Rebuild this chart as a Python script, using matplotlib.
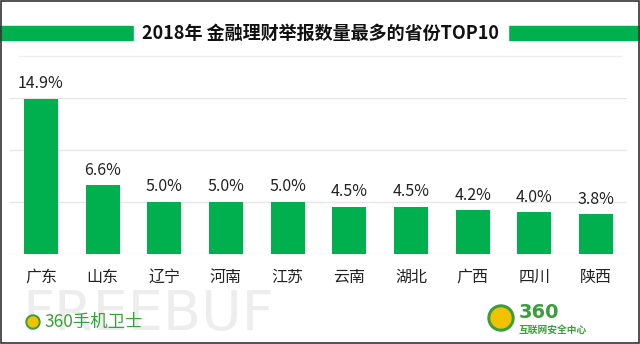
import matplotlib.pyplot as plt
from matplotlib.patches import Rectangle, Ellipse

plt.rcParams['font.family'] = ['Noto Sans CJK SC', 'DejaVu Sans']

# Data
provinces = ['广东', '山东', '辽宁', '河南', '江苏', '云南', '湖北', '广西', '四川', '陕西']
shares = [14.9, 6.6, 5.0, 5.0, 5.0, 4.5, 4.5, 4.2, 4.0, 3.8]
value_labels = ['14.9%', '6.6%', '5.0%', '5.0%', '5.0%', '4.5%', '4.5%', '4.2%', '4.0%', '3.8%']
grid_levels = [0, 5, 10, 15]
title = '2018年 金融理财举报数量最多的省份TOP10'

green = '#00b04f'
logo_green = '#3a9e3a'
W, H = 640, 344


def px(xp, yp):
    # pixel (from top-left) -> figure fraction
    return xp / W, 1 - yp / H


def circle(xp, yp, r, color, z=3):
    cx, cy = px(xp, yp)
    fig.patches.append(Ellipse((cx, cy), 2 * r / W, 2 * r / H, transform=fig.transFigure,
                               color=color, zorder=z))


fig = plt.figure(figsize=(6.4, 3.44), dpi=100)
fig.patch.set_facecolor('white')

# Watermark behind everything
fig.text(22 / W, 1 - 342 / H, 'FREEBUF', fontsize=40, color='#ededed',
         ha='left', va='bottom', family='DejaVu Sans', zorder=0)

ax = fig.add_axes([10 / W, 1 - 254 / H, 617 / W, 156 / H])
x = range(len(provinces))
ax.bar(x, shares, width=0.55, color=green, zorder=2)
for level in grid_levels:
    ax.axhline(level, color='#e6e6e6', lw=1, zorder=1)

for i in range(len(provinces)):
    ax.text(i, shares[i] + 0.65, value_labels[i], ha='center', va='bottom',
            fontsize=11.5, color='#222222', clip_on=False)
    ax.text(i, -1.4, provinces[i], ha='center', va='top',
            fontsize=11.5, color='#222222', clip_on=False)

ax.set_xlim(-0.5, len(provinces) - 0.5)
ax.set_ylim(0, 15)
ax.axis('off')

# Title band
fig.patches.append(Rectangle(px(0, 40), 1, 14 / H, transform=fig.transFigure,
                             color=green, zorder=0))
fig.patches.append(Rectangle(px(134, 46), 374 / W, 26 / H,
                             transform=fig.transFigure, color='white', zorder=1))
fig.text(0.5, 1 - 33 / H, title, ha='center', va='center', fontsize=13,
         fontweight='bold', color='#111111')
fig.lines.append(plt.Line2D([0.03, 0.97], [1 - 56 / H] * 2, transform=fig.transFigure,
                            color='#eeeeee', lw=1))

# Logos (as text)
circle(33, 322, 7, '#3a9e3a')
circle(33, 322, 5, '#f2c200', z=4)
fig.text(44 / W, 1 - 322 / H, '360手机卫士', fontsize=12.5, color=logo_green,
         ha='left', va='center')
circle(501, 318, 13, '#3a9e3a')
circle(501, 318, 10, '#f2c200', z=4)
fig.text(519 / W, 1 - 313 / H, '360', fontsize=14, color=logo_green,
         ha='left', va='center', fontweight='bold', family='DejaVu Sans')
fig.text(519 / W, 1 - 331 / H, '互联网安全中心', fontsize=7, color=logo_green,
         ha='left', va='center', fontweight='bold')

# Outer border
fig.patches.append(Rectangle((0.001, 0.002), 0.997, 0.995, transform=fig.transFigure,
                             fill=False, edgecolor='#333333', lw=1.2))

fig.savefig('out.png', dpi=100)
